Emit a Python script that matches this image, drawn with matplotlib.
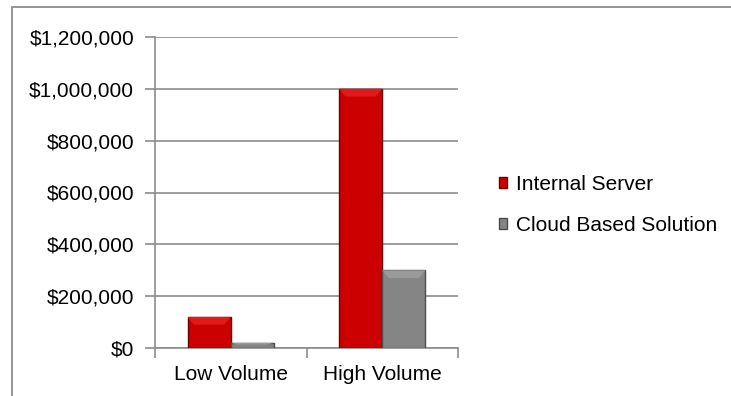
import numpy as np
import matplotlib.pyplot as plt
from matplotlib.patches import Rectangle, Polygon
from matplotlib.ticker import FuncFormatter, FixedLocator

categories = ['Low Volume', 'High Volume']
internal_server = [120000, 1000000]
cloud_based = [20000, 300000]
series_names = ['Internal Server', 'Cloud Based Solution']

plt.rcParams['font.family'] = ['Liberation Sans', 'DejaVu Sans']
plt.rcParams['font.size'] = 15

fig = plt.figure(figsize=(7.31, 3.96), dpi=100)
ax = fig.add_axes([155 / 731, 1 - 348 / 396, (458 - 155) / 731, (348 - 37) / 396])

# outer chart frame (runs past right and bottom edges)
fig.patches.append(Rectangle((12 / 731, -0.1), 1.2, 1 - 7 / 396 + 0.1,
                             transform=fig.transFigure, fill=False,
                             edgecolor='#8c8c8c', linewidth=1.3))

x = np.arange(len(categories))
w = 0.285
colors = ['#cc0000', '#858585']
edges = ['#6e0000', '#4d4d4d']
tops = ['#e01a1a', '#9a9a9a']

for i, (vals, c, ec, tc) in enumerate(zip([internal_server, cloud_based], colors, edges, tops)):
    xs = x + (i - 0.5) * w
    bars = ax.bar(xs, vals, width=w, color=c, edgecolor=ec, linewidth=1.0, zorder=3)
    # bevel highlight at the top of each bar
    for b in bars:
        x0, x1 = b.get_x(), b.get_x() + b.get_width()
        h = b.get_height()
        bev = min(h * 0.35, 30000)
        dx = b.get_width() * 0.15
        ax.add_patch(Polygon([(x0, h), (x1, h), (x1 - dx, h - bev), (x0 + dx, h - bev)],
                             closed=True, facecolor=tc, edgecolor='none', zorder=4))

ax.set_xlim(-0.5, 1.5)
ax.set_ylim(0, 1200000)
ax.set_yticks(np.arange(0, 1200001, 200000))
ax.yaxis.set_major_formatter(FuncFormatter(lambda v, p: '${:,.0f}'.format(v)))
ax.grid(axis='y', color='#8c8c8c', linewidth=1.2, zorder=0)
ax.set_axisbelow(True)

ax.set_xticks(x)
ax.set_xticklabels(categories)
ax.tick_params(axis='x', length=0, pad=12)
ax.xaxis.set_minor_locator(FixedLocator([-0.5, 0.5, 1.5]))
ax.tick_params(axis='x', which='minor', length=7, width=1.2, color='#8c8c8c', direction='out')
ax.tick_params(axis='y', length=7, width=1.2, color='#8c8c8c', direction='out', pad=8)

for s in ['top', 'right']:
    ax.spines[s].set_visible(False)
for s in ['left', 'bottom']:
    ax.spines[s].set_color('#8c8c8c')
    ax.spines[s].set_linewidth(1.2)

handles = [Rectangle((0, 0), 1, 1, facecolor=c, edgecolor=ec) for c, ec in zip(colors, edges)]
fig.legend(handles, series_names, loc='center left', bbox_to_anchor=(480 / 731, 1 - 205 / 396),
           frameon=False, handlelength=0.4, handleheight=0.4, handletextpad=0.45,
           labelspacing=1.05)

fig.savefig('out.png', dpi=100)
